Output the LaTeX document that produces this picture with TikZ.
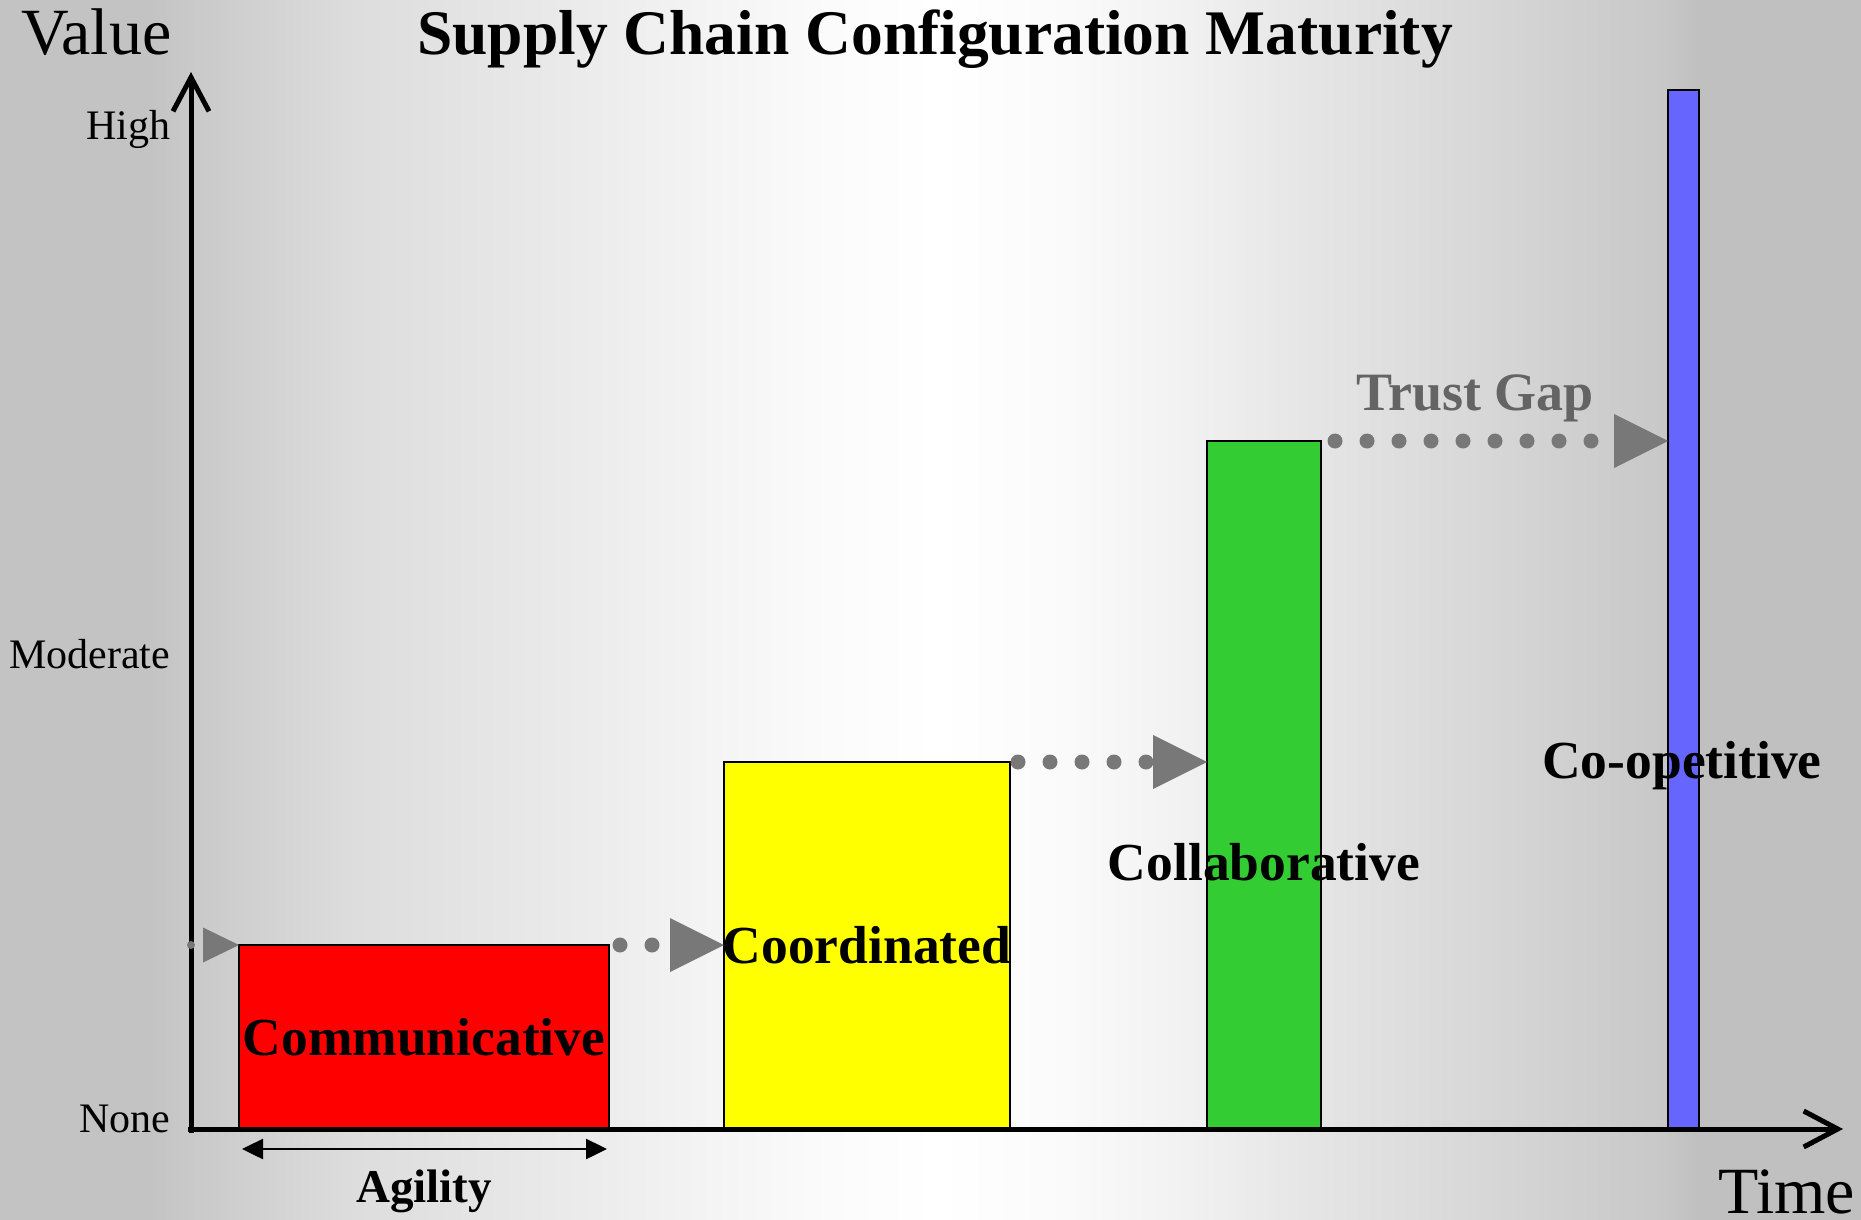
\documentclass[tikz,border=0pt]{standalone}
\usepackage{fontspec}
\setmainfont{Liberation Serif}
\usetikzlibrary{arrows.meta}
\definecolor{bgL}{RGB}{195,195,195}
\definecolor{bgR}{RGB}{192,192,192}
\definecolor{gA}{RGB}{201,201,201}
\definecolor{gB}{RGB}{221,221,221}
\definecolor{gC}{RGB}{232,232,232}
\definecolor{gD}{RGB}{244,244,244}
\definecolor{gE}{RGB}{251,251,251}
\definecolor{gF}{RGB}{250,250,250}
\definecolor{gG}{RGB}{241,241,241}
\definecolor{gH}{RGB}{230,230,230}
\definecolor{gI}{RGB}{220,220,220}
\definecolor{gJ}{RGB}{210,210,210}
\definecolor{gK}{RGB}{200,200,200}
\definecolor{arrowgray}{RGB}{120,120,120}
\definecolor{trustgray}{RGB}{100,100,100}
\definecolor{barred}{RGB}{255,0,0}
\definecolor{baryellow}{RGB}{255,255,0}
\definecolor{bargreen}{RGB}{51,204,51}
\definecolor{barblue}{RGB}{102,102,255}
\pgfdeclarehorizontalshading{bgshade}{100bp}{color(0bp)=(bgL); color(29bp)=(bgL); color(30.1bp)=(gA); color(34.55bp)=(gB); color(39.35bp)=(gC); color(44.15bp)=(gD); color(47.3bp)=(gE); color(50.2bp)=(white); color(53.7bp)=(gF); color(56.9bp)=(gG); color(60bp)=(gH); color(63.25bp)=(gI); color(66.5bp)=(gJ); color(69.65bp)=(gK); color(70.6bp)=(bgR); color(100bp)=(bgR)}
\newcommand\fsz[1]{\fontsize{#1}{#1}\selectfont}
\begin{document}
\begin{tikzpicture}[x=1pt,y=-1pt,
  bar/.style={draw=black,line width=1.6pt,inner sep=0pt,outer sep=0pt,anchor=north west},
  axisline/.style={draw=black,line width=5pt,-{Straight Barb[length=34pt,width=36pt]}},
  gapdots/.style={draw=arrowgray,line width=15pt,line cap=round,dash pattern=on 0pt off 32pt,
     -{Triangle[length=54pt,width=54pt,line width=0pt,fill=arrowgray]}},
  smalldots/.style={draw=arrowgray,line width=8pt,line cap=round,dash pattern=on 0pt off 32pt,
     -{Triangle[length=36pt,width=35pt,line width=0pt,fill=arrowgray]}},
  lbl/.style={inner sep=0pt,outer sep=0pt,anchor=base},
  barlabel/.style={lbl,font=\fsz{53.5}\bfseries},
  ticklbl/.style={inner sep=0pt,outer sep=0pt,anchor=base east,font=\fsz{42}},
  agil/.style={draw=black,line width=2.5pt,{Triangle[length=21pt,width=20pt]}-{Triangle[length=21pt,width=20pt]}}
]
\useasboundingbox (0,0) rectangle (1861,1220);
\shade[shading=bgshade] (0,0) rectangle (1861,1220);

% bars
\node[bar,fill=barred,minimum width=370pt,minimum height=183pt] (comm) at (239,945) {};
\node[bar,fill=baryellow,minimum width=286pt,minimum height=366pt] (coord) at (724,762) {};
\node[bar,fill=bargreen,minimum width=114pt,minimum height=687pt] (collab) at (1207,441) {};
\node[bar,fill=barblue,minimum width=31pt,minimum height=1038pt] (coop) at (1668,90) {};

% axes
\coordinate (yb) at (191,1133);
\coordinate (yt) at (191,72);
\coordinate (xl) at (188,1129);
\coordinate (xr) at (1843,1129);
\draw[axisline] (yb) -- (yt);
\draw[axisline] (xl) -- (xr);

% dotted arrows
\coordinate (start) at (191,945);
\draw[smalldots] (start) -- (comm.north west);
\draw[gapdots,shorten <=11pt] (comm.north east) -- (coord.west |- comm.north);
\draw[gapdots,shorten <=8pt] (coord.north east) -- (collab.west |- coord.north);
\draw[gapdots,shorten <=14pt] (collab.north east) -- (coop.west |- collab.north);

% agility arrow
\coordinate (ag1) at (242,1149);
\coordinate (ag2) at (607,1149);
\draw[agil] (ag1) -- (ag2);

% texts
\node[lbl,font=\fsz{63.5}\bfseries] (title) at (935,55) {Supply Chain Configuration Maturity};
\node[inner sep=0pt,anchor=base west,font=\fsz{66}] (value) at (21,55) {Value};
\node[inner sep=0pt,anchor=base west,font=\fsz{66}] (time) at (1718,1213) {Time};
\node[ticklbl] (high) at (170,140) {High};
\node[ticklbl] (moderate) at (170,668) {Moderate};
\node[ticklbl] (none) at (170,1132) {None};
\node[barlabel] (tcomm) at (424,1055) {Communicative};
\node[barlabel] (tcoord) at (867,963) {Coordinated};
\node[barlabel] (tcollab) at (1264,880) {Collaborative};
\node[barlabel] (tcoop) at (1682,778) {Co-opetitive};
\node[barlabel,font=\fsz{54}\bfseries,text=trustgray] (trust) at (1475,410) {Trust Gap};
\node[lbl,font=\fsz{47}\bfseries] (agility) at (424,1202) {Agility};
\end{tikzpicture}
\end{document}
